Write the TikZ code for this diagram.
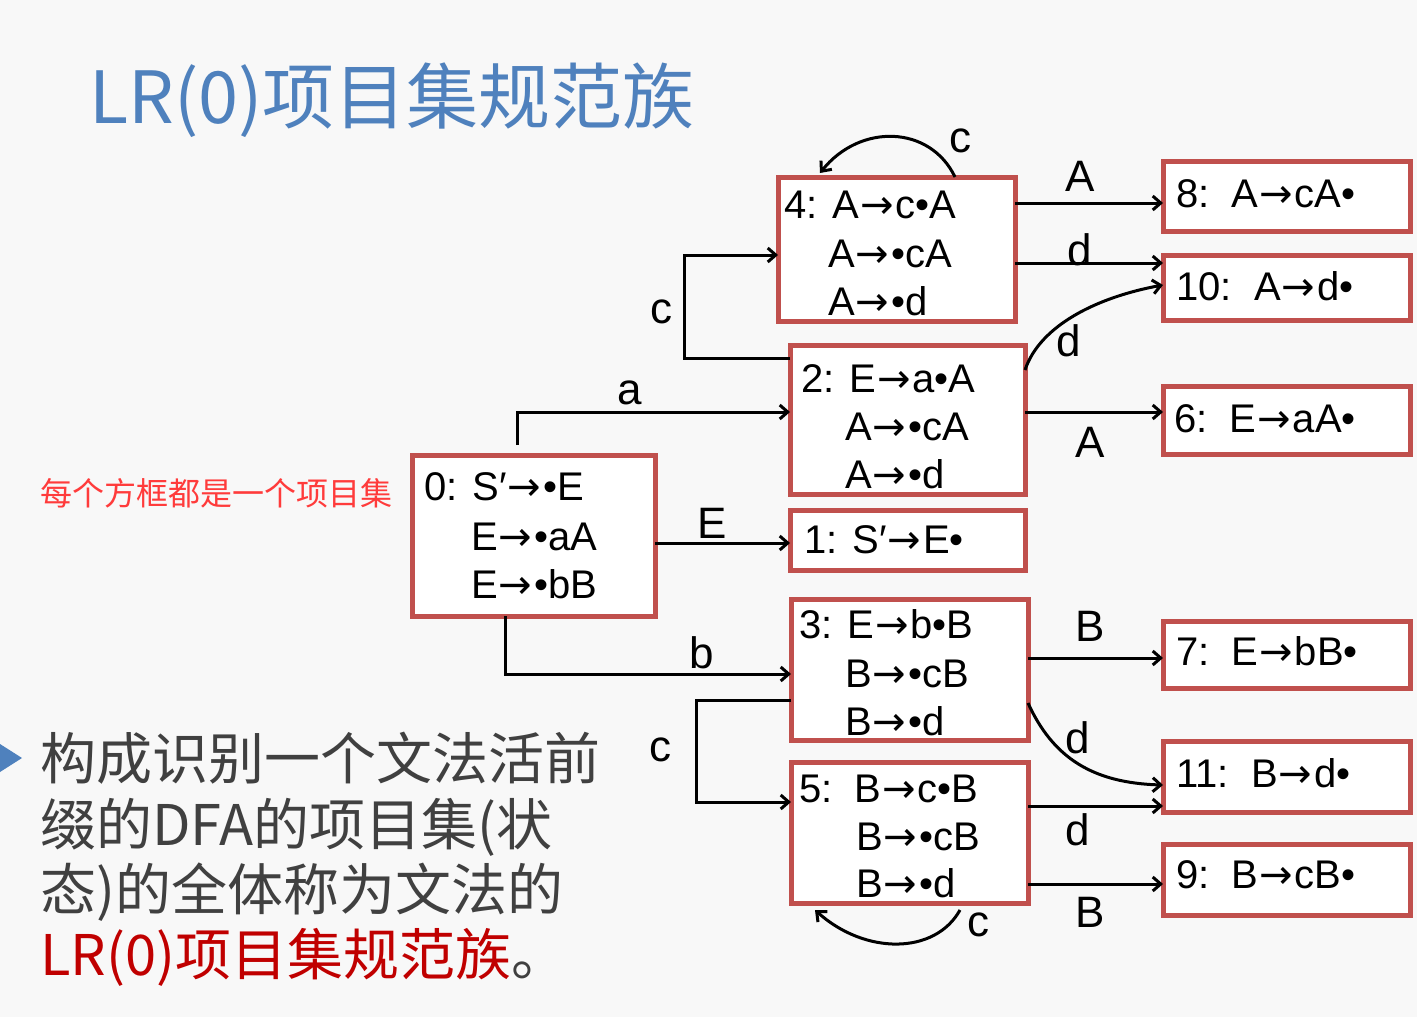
\documentclass[tikz,border=0pt]{standalone}
\usepackage{fontspec}
\setmainfont{Liberation Sans}
\newfontfamily\cjk{Noto Sans CJK SC}
\newfontfamily\arrfont{DejaVu Sans}
\usetikzlibrary{calc,arrows.meta}
\definecolor{bg}{HTML}{F8F8F8}
\definecolor{boxred}{HTML}{C0504D}
\definecolor{titleblue}{HTML}{4F81BD}
\definecolor{notered}{HTML}{FF3B3B}
\definecolor{bodygray}{HTML}{404040}
\definecolor{darkred}{HTML}{C00000}
\newcommand\mybox[5]{\node[box,minimum width=#4pt,minimum height=#5pt] (#1) at (#2,#3) {};}
\newcommand\myto{\kern1pt{\arrfont →}\kern2pt}
\begin{document}
\begin{tikzpicture}[x=1pt,y=-1pt,
  box/.style={draw=boxred, line width=5pt, fill=white, anchor=north west, inner sep=0pt, outer sep=0pt},
  item/.style={anchor=base west, inner sep=0pt, font=\fontsize{40}{48}\selectfont},
  lbl/.style={inner sep=0pt, font=\fontsize{44}{52}\selectfont},
  arr/.style={line width=3pt, -{Straight Barb[length=8pt,width=14pt]}},
  cjktext/.style={anchor=base west, inner sep=0pt}
]
\path[fill=bg] (0,0) rectangle (1417,1017);
\useasboundingbox (0,0) rectangle (1417,1017);

% title and side texts
\node[cjktext, font=\cjk\fontsize{72}{80}\selectfont, text=titleblue] (title) at (89,123) {LR(0)项目集规范族};
\node[cjktext, font=\cjk\fontsize{32}{36}\selectfont, text=notered] (note) at (40,505) {每个方框都是一个项目集};
\fill[titleblue] (0,744) -- (22,758) -- (0,772) -- cycle;
\node[cjktext, font=\cjk\fontsize{56}{64}\selectfont, text=bodygray] (body1) at (40,779) {构成识别一个文法活前};
\node[cjktext, font=\cjk\fontsize{56}{64}\selectfont, text=bodygray] (body2) at (40,845) {缀的DFA的项目集(状};
\node[cjktext, font=\cjk\fontsize{56}{64}\selectfont, text=bodygray] (body3) at (40,910) {态)的全体称为文法的};
\node[cjktext, font=\cjk\fontsize{56}{64}\selectfont, text=darkred] (body4) at (40,975) {LR(0)项目集规范族\textcolor{bodygray}{。}};

% boxes
\mybox{b4}{778}{177}{237}{144}
\mybox{b8}{1163}{161}{247}{70}
\mybox{b10}{1163}{255}{247}{65}
\mybox{b2}{790}{345}{235}{149}
\mybox{b6}{1163}{386}{247}{68}
\mybox{b1}{790}{510}{235}{60}
\mybox{b0}{412}{455}{243}{161}
\mybox{b3}{791}{599}{237}{141}
\mybox{b5}{791}{762}{237}{141}
\mybox{b7}{1163}{621}{247}{67}
\mybox{b11}{1163}{741}{247}{71}
\mybox{b9}{1163}{844}{247}{71}

% box contents
\node[item] (t4a) at (784,218) {4: A\myto c•A};
\node[item] (t4b) at (828,267) {A\myto •cA};
\node[item] (t4c) at (828,315) {A\myto •d};
\node[item] (t8) at (1176,207) {8:\ \ A\myto cA•};
\node[item] (t10) at (1176,300) {10:\ \ A\myto d•};
\node[item] (t2a) at (801,392) {2: E\myto a•A};
\node[item] (t2b) at (845,440) {A\myto •cA};
\node[item] (t2c) at (845,488) {A\myto •d};
\node[item] (t6) at (1174,432) {6:\ \ E\myto aA•};
\node[item] (t0a) at (424,500) {0: S′\myto •E};
\node[item] (t0b) at (471,550) {E\myto •aA};
\node[item] (t0c) at (471,598) {E\myto •bB};
\node[item] (t1) at (804,553) {1: S′\myto E•};
\node[item] (t3a) at (799,638) {3: E\myto b•B};
\node[item] (t3b) at (845,687) {B\myto •cB};
\node[item] (t3c) at (845,735) {B\myto •d};
\node[item] (t5a) at (799,802) {5:\ \ B\myto c•B};
\node[item] (t5b) at (856,850) {B\myto •cB};
\node[item] (t5c) at (856,897) {B\myto •d};
\node[item] (t7) at (1176,665) {7:\ \ E\myto bB•};
\node[item] (t11) at (1176,787) {11:\ \ B\myto d•};
\node[item] (t9) at (1176,888) {9:\ \ B\myto cB•};

% connectors
\draw[arr] ($(b4.north west)+(177,0)$) .. controls +(-25,-52) and +(40,-50) .. ($(b4.north west)+(42,-4)$);
\draw[arr] ($(b4.north east)+(0,26)$) -- ($(b8.north west)+(0,42)$);
\draw[arr] ($(b4.north east)+(0,86)$) -- ($(b10.north west)+(0,8)$);
\draw[arr] ($(b2.north east)+(0,25)$) .. controls +(15,-45) and +(-65,12) .. ($(b10.north west)+(0,30)$);
\draw[arr] ($(b2.north west)+(0,13)$) -- ++(-106,0) |- ($(b4.north west)+(0,78)$);
\draw[arr] ($(b0.north west)+(105,-10)$) |- ($(b2.north west)+(0,67)$);
\draw[arr] ($(b2.north east)+(0,67)$) -- ($(b6.north west)+(0,26)$);
\draw[arr] ($(b0.north east)+(0,88)$) -- ($(b1.north west)+(0,33)$);
\draw[arr] ($(b0.south west)+(93,0)$) |- ($(b3.north west)+(0,75)$);
\draw[arr] ($(b3.north east)+(0,59)$) -- ($(b7.north west)+(0,37)$);
\draw[arr] ($(b3.north west)+(0,101)$) -- ++(-95,0) |- ($(b5.north west)+(0,40)$);
\draw[arr] ($(b3.north east)+(0,104)$) .. controls +(25,55) and +(-70,-2) .. ($(b11.north west)+(0,44)$);
\draw[arr] ($(b5.north east)+(0,44)$) -- ($(b11.north west)+(0,65)$);
\draw[arr] ($(b5.north east)+(0,122)$) -- ($(b9.north west)+(0,40)$);
\draw[arr] ($(b5.south west)+(169,7)$) .. controls +(-25,45) and +(50,45) .. ($(b5.south west)+(24,7)$);

% labels
\node[lbl] (lc4) at (960,141) {c};
\node[lbl] (lA48) at (1080,176) {A};
\node[lbl] (ld410) at (1080,250) {d};
\node[lbl] (ld210) at (1069,341) {d};
\node[lbl] (lc24) at (661,312) {c};
\node[lbl] (la02) at (630,393) {a};
\node[lbl] (lA26) at (1090,442) {A};
\node[lbl] (lE01) at (712,523) {E};
\node[lbl] (lb03) at (702,653) {b};
\node[lbl] (lB37) at (1090,626) {B};
\node[lbl] (lc35) at (660,750) {c};
\node[lbl] (ld311) at (1078,738) {d};
\node[lbl] (ld511) at (1078,830) {d};
\node[lbl] (lB59) at (1090,912) {B};
\node[lbl] (lc5) at (978,925) {c};
\end{tikzpicture}
\end{document}
